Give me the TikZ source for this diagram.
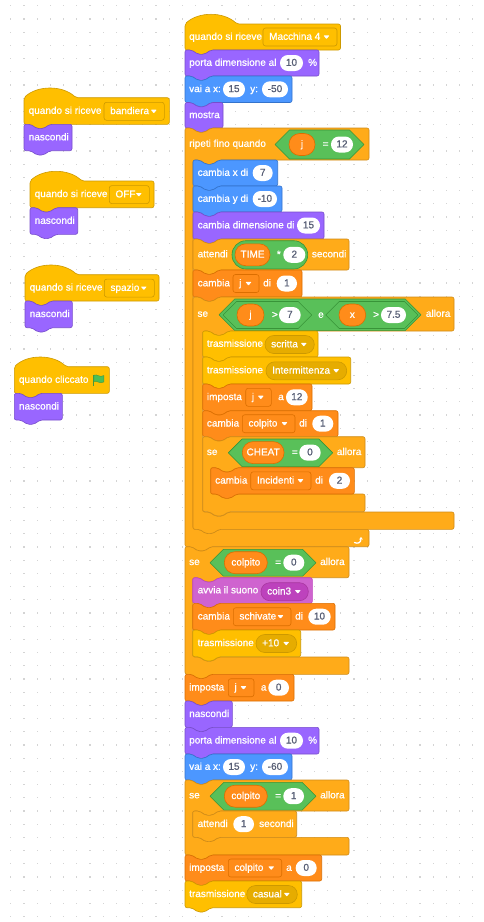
\documentclass[tikz,border=0pt]{standalone}
\usepackage{fontspec}
\newfontfamily\scr{Liberation Sans}[FakeBold=0.9]
\usetikzlibrary{arrows.meta}
\definecolor{motion}{HTML}{4C97FF}\definecolor{motionB}{HTML}{3373CC}
\definecolor{looks}{HTML}{9966FF}\definecolor{looksB}{HTML}{774DCB}
\definecolor{sound}{HTML}{CF63CF}\definecolor{soundB}{HTML}{BD42BD}\definecolor{soundM}{HTML}{BD42BD}\definecolor{soundMB}{HTML}{A8379F}
\definecolor{events}{HTML}{FFBF00}\definecolor{eventsB}{HTML}{CC9900}\definecolor{eventsM}{HTML}{E6AC00}
\definecolor{control}{HTML}{FFAB19}\definecolor{controlB}{HTML}{CF8B17}
\definecolor{ops}{HTML}{59C059}\definecolor{opsB}{HTML}{389438}
\definecolor{var}{HTML}{FF8C1A}\definecolor{varB}{HTML}{DB6E00}
\definecolor{pillT}{HTML}{575E75}
\definecolor{dotc}{HTML}{D4D4D4}
\definecolor{flagG}{HTML}{4CBF56}\definecolor{flagB}{HTML}{45993D}
\newcommand\SBlk[6]{\filldraw[blk,fill=#5,draw=#6] (#1,#2) -- ({#1+6.5},#2) -- ({#1+13},{#2+4.3}) -- ({#1+19.5},{#2+4.3}) -- ({#1+26},#2) -- (#4,#2) -- (#4,#3) -- ({#1+26},#3) -- ({#1+19.5},{#3+4.3}) -- ({#1+13},{#3+4.3}) -- ({#1+6.5},#3) -- (#1,#3) -- cycle;}
\newcommand\HBlk[6]{\filldraw[blk,fill=#5,draw=#6] (#1,#2) .. controls ({#1+13.5},{#2-12.5}) and ({#1+38.5},{#2-12.5}) .. ({#1+52},#2) -- (#4,#2) -- (#4,#3) -- ({#1+26},#3) -- ({#1+19.5},{#3+4.3}) -- ({#1+13},{#3+4.3}) -- ({#1+6.5},#3) -- (#1,#3) -- cycle;}
\newcommand\CBlk[9]{\filldraw[blk,fill=#8,draw=#9] (#1,#2) -- ({#1+6.5},#2) -- ({#1+13},{#2+4.3}) -- ({#1+19.5},{#2+4.3}) -- ({#1+26},#2) -- (#4,#2) -- (#4,#3) -- ({#5+26},#3) -- ({#5+19.5},{#3+4.3}) -- ({#5+13},{#3+4.3}) -- ({#5+6.5},#3) -- (#5,#3) -- (#5,#6) -- ({#5+6.5},#6) -- ({#5+13},{#6+4.3}) -- ({#5+19.5},{#6+4.3}) -- ({#5+26},#6) -- (#4,#6) -- (#4,#7) -- ({#1+26},#7) -- ({#1+19.5},{#7+4.3}) -- ({#1+13},{#7+4.3}) -- ({#1+6.5},#7) -- (#1,#7) -- cycle;}
\newcommand\Tx[3]{\node[txt] at (#1,#2) {#3};}
\newcommand\Pill[4]{\fill[white,rounded corners=7.9pt] (#1,{#3-8}) rectangle (#2,{#3+8}); \node[ptxt] at ({(#1+#2)/2},#3) {#4};}
\newcommand\VPill[4]{\filldraw[fill=var,draw=varB,line width=0.6pt,rounded corners=10.8pt] (#1,{#3-11}) rectangle (#2,{#3+11}); \node[ctxt] at ({(#1+#2)/2},#3) {#4};}
\newcommand\Hex[6]{\filldraw[fill=#5,draw=#6,line width=0.6pt,line join=round] (#1,#3) -- ({#1+#4},{#3-#4}) -- ({#2-#4},{#3-#4}) -- (#2,#3) -- ({#2-#4},{#3+#4}) -- ({#1+#4},{#3+#4}) -- cycle;}
\newcommand\DArr[2]{\fill[white,rounded corners=0.6pt] ({#1-3},{#2-1.6}) -- ({#1+3},{#2-1.6}) -- (#1,{#2+2}) -- cycle;}
\newcommand\DD[6]{\filldraw[fill=#5,draw=#6,line width=0.6pt,rounded corners=2.5pt] (#1,{#3-9}) rectangle (#2,{#3+9}); \node[txt] at ({#1+6},#3) {#4}; \DArr{#2-10.5}{#3}}
\newcommand\BD[6]{\filldraw[fill=#5,draw=#6,line width=0.6pt,rounded corners=8.8pt] (#1,{#3-9}) rectangle (#2,{#3+9}); \node[txt] at ({#1+6},#3) {#4}; \DArr{#2-10.5}{#3}}
\begin{document}
\begin{tikzpicture}[x=1pt,y=-1pt,
 blk/.style={line width=0.6pt,rounded corners=2pt,line join=round},
 txt/.style={anchor=west,inner sep=0pt,text=white,font=\scr\fontsize{10}{12}\selectfont,text height=7.3pt,text depth=1.7pt},
 ctxt/.style={txt,anchor=center},
 ptxt/.style={ctxt,text=pillT}]
\useasboundingbox (0,0) rectangle (484,922);
\fill[white] (0,0) rectangle (484,922);
\foreach \i in {0,...,36}{\foreach \j in {0,...,69}{\fill[dotc] ({10.1+13.2*\i},{5.1+13.2*\j}) rectangle ++(1.3,1.3);}}
% ---------- left scripts
\HBlk{24}{97.7}{124.3}{169.3}{events}{eventsB}
\Tx{28.5}{111}{quando si riceve}
\DD{104}{164.3}{111.3}{bandiera}{events}{eventsB}
\SBlk{24}{124.3}{150.7}{72}{looks}{looksB}
\Tx{28.5}{137.5}{nascondi}
\HBlk{30}{181}{207.7}{154}{events}{eventsB}
\Tx{34.5}{194.3}{quando si riceve}
\DD{109.3}{149.3}{194.6}{OFF}{events}{eventsB}
\SBlk{30}{207.7}{234.3}{77.7}{looks}{looksB}
\Tx{34.5}{221}{nascondi}
\HBlk{25}{274.7}{301}{159}{events}{eventsB}
\Tx{29.5}{287.8}{quando si riceve}
\DD{104.3}{154.3}{288.1}{spazio}{events}{eventsB}
\SBlk{25}{301}{327.7}{72.3}{looks}{looksB}
\Tx{29.5}{314.3}{nascondi}
\HBlk{14.3}{366.7}{393.3}{109.3}{events}{eventsB}
\Tx{18.8}{380}{quando cliccato}
\fill[flagB] (92.6,374.5) rectangle (94,386);
\filldraw[fill=flagG,draw=flagB,line width=0.4pt] (94,375.2) .. controls (97,373.6) and (99.5,378) .. (103.8,375.6) -- (103.8,382) .. controls (99.5,384.4) and (97,380) .. (94,381.6) -- cycle;
\SBlk{14.3}{393.3}{420}{62.3}{looks}{looksB}
\Tx{18.8}{406.7}{nascondi}
% ---------- main script
\HBlk{185}{24}{50}{340.5}{events}{eventsB}
\Tx{189}{37}{quando si riceve}
\DD{263}{337}{37}{Macchina 4}{events}{eventsB}
\SBlk{185}{50}{76}{319}{looks}{looksB}
\Tx{189}{63}{porta dimensione al}
\Pill{280}{303}{63}{10}
\Tx{308}{63}{\%}
\SBlk{185}{76}{102.5}{292}{motion}{motionB}
\Tx{189}{89.3}{vai a x:}
\Pill{223}{245}{89.3}{15}
\Tx{250}{89.3}{y:}
\Pill{262}{288}{89.3}{-50}
\SBlk{185}{102.5}{128}{223}{looks}{looksB}
\Tx{189}{115.3}{mostra}
% repeat until
\CBlk{185}{128}{160}{369}{193}{529.3}{546.7}{control}{controlB}
\Tx{189}{144}{ripeti fino quando}
\Hex{275}{364}{144.5}{14.5}{ops}{opsB}
\VPill{289}{315}{144.5}{j}
\Tx{322.5}{144.5}{=}
\Pill{331}{353}{144.5}{12}
\draw[white,line width=1.3pt,line cap=round,-{Stealth[length=2.6pt,width=3.8pt]}] (354.5,542.5) .. controls (357.5,544) and (361,543) .. (361,537);
\SBlk{193}{160}{186}{277.7}{motion}{motionB}
\Tx{197.5}{173}{cambia x di}
\Pill{252.7}{272.7}{173}{7}
\SBlk{193}{186}{212}{282}{motion}{motionB}
\Tx{197.5}{199}{cambia y di}
\Pill{252.7}{277}{199}{-10}
\SBlk{193}{212}{239}{324}{looks}{looksB}
\Tx{197.5}{225.5}{cambia dimensione di}
\Pill{297}{320}{225.5}{15}
\SBlk{193}{239}{270}{349}{control}{controlB}
\Tx{197.5}{254.5}{attendi}
\filldraw[fill=ops,draw=opsB,line width=0.6pt,rounded corners=14pt] (232,240.7) rectangle (307.7,269);
\VPill{235}{270}{254.8}{TIME}
\Tx{276.7}{254.8}{*}
\Pill{283.3}{305.3}{254.8}{2}
\Tx{311.7}{254.5}{secondi}
\SBlk{193}{270}{297}{302}{var}{varB}
\Tx{197.5}{283.5}{cambia}
\DD{233}{259}{283.5}{j}{var}{varB}
\Tx{263}{283.5}{di}
\Pill{276.7}{297}{283.5}{1}
% if j>7 and x>7.5
\CBlk{193}{297}{331}{454}{202.7}{512}{529.3}{control}{controlB}
\Tx{197.3}{314}{se}
\Hex{219}{421}{314.8}{15.8}{ops}{opsB}
\Hex{223}{311.7}{315}{13.5}{ops}{opsB}
\VPill{237}{264}{315}{j}
\Tx{271.7}{315}{>}
\Pill{279}{300.7}{315}{7}
\Tx{318}{315}{e}
\Hex{325.7}{418}{315}{13.5}{ops}{opsB}
\VPill{339}{365.7}{315}{x}
\Tx{373}{315}{>}
\Pill{381}{406}{315}{7.5}
\Tx{425.7}{314}{allora}
\SBlk{202.7}{331}{357}{318}{events}{eventsB}
\Tx{206.7}{344}{trasmissione}
\BD{265}{314.3}{344.5}{scritta}{eventsM}{eventsB}
\SBlk{202.7}{357}{384}{350.7}{events}{eventsB}
\Tx{206.7}{370.5}{trasmissione}
\BD{266}{346.7}{370.8}{Intermittenza}{eventsM}{eventsB}
\SBlk{202.7}{384}{410.7}{312}{var}{varB}
\Tx{206.7}{397.3}{imposta}
\DD{245.7}{271.3}{397.3}{j}{var}{varB}
\Tx{278}{397.3}{a}
\Pill{286}{307.7}{397.3}{12}
\SBlk{202.7}{410.7}{436.7}{338}{var}{varB}
\Tx{206.7}{423.7}{cambia}
\DD{242.3}{295}{423.7}{colpito}{var}{varB}
\Tx{299}{423.7}{di}
\Pill{312.3}{333.3}{423.7}{1}
% if CHEAT = 0
\CBlk{202.7}{436.7}{467.7}{365}{210.7}{494}{511.7}{control}{controlB}
\Tx{206.7}{452.2}{se}
\Hex{228.3}{332.7}{452.8}{13.8}{ops}{opsB}
\VPill{242.3}{284}{452.6}{CHEAT}
\Tx{291.7}{452.6}{=}
\Pill{299.3}{320.7}{452.6}{0}
\Tx{336.7}{452.2}{allora}
\SBlk{210.7}{467.7}{494}{354.3}{var}{varB}
\Tx{215}{480.8}{cambia}
\DD{250.7}{311}{480.8}{Incidenti}{var}{varB}
\Tx{315}{480.8}{di}
\Pill{329}{350}{480.8}{2}
% if colpito = 0
\CBlk{185}{546.7}{577.7}{349}{192.7}{657}{674.3}{control}{controlB}
\Tx{189}{562.2}{se}
\Hex{210}{316}{562.7}{13.4}{ops}{opsB}
\VPill{224.3}{267.3}{562.7}{colpito}
\Tx{275}{562.7}{=}
\Pill{283.3}{304.3}{562.7}{0}
\Tx{320}{562.2}{allora}
\SBlk{192.7}{577.7}{603.3}{312.3}{sound}{soundB}
\Tx{197.5}{590.5}{avvia il suono}
\BD{261}{308.3}{591.7}{coin3}{soundM}{soundMB}
\SBlk{192.7}{603.3}{630}{335}{var}{varB}
\Tx{197.5}{616.7}{cambia}
\DD{233.3}{291}{616.7}{schivate}{var}{varB}
\Tx{295}{616.7}{di}
\Pill{308.3}{330.7}{616.7}{10}
\SBlk{192.7}{630}{656.7}{300.7}{events}{eventsB}
\Tx{197.5}{643.3}{trasmissione}
\BD{256}{296.7}{643.5}{+10}{eventsM}{eventsB}
% after
\SBlk{185}{674.3}{701}{294}{var}{varB}
\Tx{189}{687.7}{imposta}
\DD{228.3}{254}{687.7}{j}{var}{varB}
\Tx{260.7}{687.7}{a}
\Pill{268.3}{289}{687.7}{0}
\SBlk{185}{701}{727.3}{232.3}{looks}{looksB}
\Tx{189}{714.2}{nascondi}
\SBlk{185}{727.3}{754}{319}{looks}{looksB}
\Tx{189}{740.7}{porta dimensione al}
\Pill{280}{303}{740.7}{10}
\Tx{308}{740.7}{\%}
\SBlk{185}{754}{780}{292}{motion}{motionB}
\Tx{189}{767}{vai a x:}
\Pill{223}{245}{767}{15}
\Tx{250}{767}{y:}
\Pill{262}{288}{767}{-60}
% if colpito = 1
\CBlk{185}{780}{811}{349}{192.7}{837.3}{855}{control}{controlB}
\Tx{189}{795.5}{se}
\Hex{210}{316}{796.2}{13.9}{ops}{opsB}
\VPill{224.3}{267.3}{796.2}{colpito}
\Tx{275}{796.2}{=}
\Pill{283.3}{304}{796.2}{1}
\Tx{320}{795.5}{allora}
\SBlk{192.7}{811}{837.3}{296.7}{control}{controlB}
\Tx{197.5}{824.2}{attendi}
\Pill{233.3}{254}{824.2}{1}
\Tx{259}{824.2}{secondi}
\SBlk{185}{855}{881}{321.7}{var}{varB}
\Tx{189}{868}{imposta}
\DD{228.3}{281.7}{868}{colpito}{var}{varB}
\Tx{286}{868}{a}
\Pill{295.7}{316.7}{868}{0}
\SBlk{185}{881}{907.7}{301.7}{events}{eventsB}
\Tx{189}{894.3}{trasmissione}
\BD{246.7}{297.3}{894.5}{casual}{eventsM}{eventsB}
\end{tikzpicture}
\end{document}
